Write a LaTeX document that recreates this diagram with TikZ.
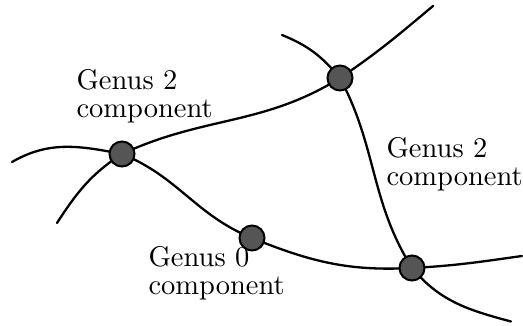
\documentclass[tikz,border=0pt]{standalone}
\usetikzlibrary{backgrounds}
\definecolor{nodegray}{HTML}{555555}
\tikzset{
  vertex/.style={circle, draw=black, line width=2pt, fill=nodegray, minimum size=25pt, inner sep=0pt},
  strand/.style={line width=2.3pt, line cap=round},
  lbl/.style={anchor=north west, inner sep=0pt, align=left, scale=2.85, transform shape, font=\fontsize{10}{10}\selectfont}
}
\begin{document}
\begin{tikzpicture}[x=1pt, y=1pt]
\useasboundingbox (0,0) rectangle (523,326);
% vertices
\node[vertex] (A) at (122,172) {};
\node[vertex] (B) at (340,248) {};
\node[vertex] (C) at (252,88) {};
\node[vertex] (D) at (412,58) {};
% free ends
\coordinate (e1) at (12,164);
\coordinate (e2) at (57,103);
\coordinate (e3) at (433,320);
\coordinate (e4) at (282,291);
\coordinate (e5) at (522,70);
\coordinate (e6) at (511,4.5);
\begin{scope}[on background layer]
% strand 1
\draw[strand] (e1) to[out=30, in=169] (A.center)
  to[out=-22, in=158] (C.center)
  to[out=-22, in=183] (D.center)
  to[out=3, in=188] (e5);
% strand 2
\draw[strand] (e2) to[out=57, in=-147] (A.center)
  to[out=25, in=-148] (B.center)
  to[out=34, in=-140] (e3);
% strand 3
\draw[strand] (e4) to[out=-22, in=130] (B.center)
  to[out=-62, in=122] (D.center)
  to[out=-50, in=165] (e6);
\end{scope}
% labels
\node[lbl] (L1) at (76,257.2) {Genus 2\\component};
\node[lbl] (L2) at (386,189.5) {Genus 2\\component};
\node[lbl] (L3) at (148,80.5) {Genus 0\\component};
\end{tikzpicture}
\end{document}
